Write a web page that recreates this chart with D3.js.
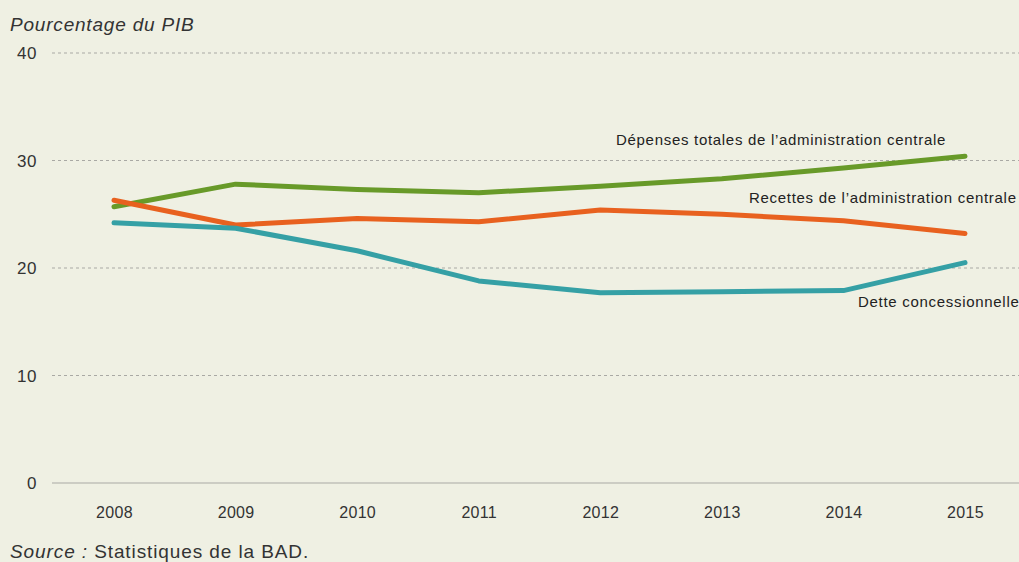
<!DOCTYPE html>
<html>
<head>
<meta charset="utf-8">
<script src="https://cdn.jsdelivr.net/npm/d3@7"></script>
<style>
  body { margin: 0; background: #eff0e3; }
  svg { display: block; font-family: "Liberation Sans", Arial, sans-serif; }
</style>
</head>
<body>
<div id="chart"></div>
<script>
// data
var years = [2008, 2009, 2010, 2011, 2012, 2013, 2014, 2015];
var depenses = [25.7, 27.8, 27.3, 27.0, 27.6, 28.3, 29.3, 30.4];
var recettes = [26.3, 24.0, 24.6, 24.3, 25.4, 25.0, 24.4, 23.2];
var dette = [24.2, 23.7, 21.6, 18.8, 17.7, 17.8, 17.9, 20.5];
var yTicks = [0, 10, 20, 30, 40];

var series = [
  {name: "Dépenses totales de l’administration centrale", values: depenses, color: "#689a29", lx: 946, ly: 145, anchor: "end"},
  {name: "Recettes de l’administration centrale", values: recettes, color: "#e8611f", lx: 749, ly: 203, anchor: "start"},
  {name: "Dette concessionnelle", values: dette, color: "#35a0a5", lx: 858, ly: 307, anchor: "start"}
];

var W = 1019, H = 562;
var svg = d3.select("#chart").append("svg")
    .attr("width", W)
    .attr("height", H);

svg.append("rect").attr("width", W).attr("height", H).attr("fill", "#eff0e3");

var x = d3.scalePoint().domain(years).range([114, 965]);
var y = d3.scaleLinear().domain([0, 40]).range([483, 53]);

// gridlines
svg.append("g").selectAll("line")
    .data(yTicks)
  .enter().append("line")
    .attr("x1", 52).attr("x2", W)
    .attr("y1", function(d) { return y(d); })
    .attr("y2", function(d) { return y(d); })
    .attr("stroke", "#a9a9a4")
    .attr("stroke-width", 1)
    .attr("stroke-dasharray", function(d) { return d === 0 ? null : "3,3"; });

// y labels
svg.append("g").selectAll("text")
    .data(yTicks)
  .enter().append("text")
    .attr("x", 37)
    .attr("y", function(d) { return y(d) + 6; })
    .attr("text-anchor", "end")
    .attr("font-size", "17px")
    .attr("letter-spacing", "0.5px")
    .attr("fill", "#333")
    .text(function(d) { return d; });

// x axis labels
var xAxis = d3.axisBottom(x).tickSize(0).tickPadding(0);
var gx = svg.append("g")
    .attr("transform", "translate(0,507)")
    .call(xAxis);
gx.select(".domain").remove();
gx.selectAll("text")
    .attr("font-size", "16px")
    .attr("letter-spacing", "0.3px")
    .attr("font-family", "Liberation Sans, Arial, sans-serif")
    .attr("fill", "#333");

// lines
var line = d3.line()
    .x(function(d, i) { return x(years[i]); })
    .y(function(d) { return y(d); });

series.forEach(function(s) {
  svg.append("path")
      .attr("d", line(s.values))
      .attr("fill", "none")
      .attr("stroke", s.color)
      .attr("stroke-width", 5)
      .attr("stroke-linecap", "round")
      .attr("stroke-linejoin", "round");
  svg.append("text")
      .attr("x", s.lx)
      .attr("y", s.ly)
      .attr("text-anchor", s.anchor)
      .attr("font-size", "15px")
      .attr("letter-spacing", "0.7px")
      .attr("fill", "#222")
      .text(s.name);
});

// title
svg.append("text")
    .attr("x", 10)
    .attr("y", 31)
    .attr("font-size", "19px")
    .attr("letter-spacing", "0.8px")
    .attr("font-style", "italic")
    .attr("fill", "#333")
    .text("Pourcentage du PIB");

// source
var src = svg.append("text")
    .attr("x", 10)
    .attr("y", 558)
    .attr("font-size", "19px")
    .attr("letter-spacing", "0.9px")
    .attr("fill", "#333");
src.append("tspan").attr("font-style", "italic").text("Source : ");
src.append("tspan").text("Statistiques de la BAD.");
</script>
</body>
</html>
